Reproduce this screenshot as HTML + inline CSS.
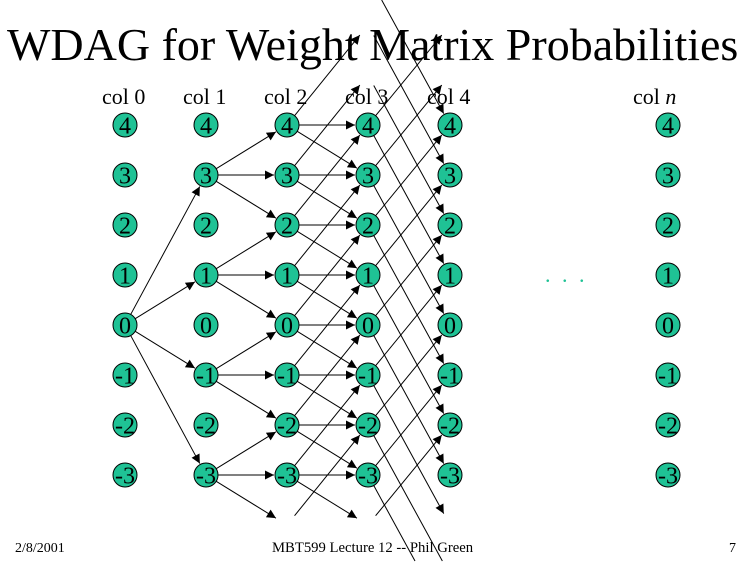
<!DOCTYPE html>
<html><head><meta charset="utf-8"><style>
html,body{margin:0;background:#fff;overflow:hidden;width:750px;height:562px;}
#w{position:relative;width:750px;height:562px;overflow:hidden;font-family:"Liberation Serif",serif;}
.t{position:absolute;white-space:nowrap;color:#000;}
</style></head><body><div id="w">
<div class="t" style="left:7px;top:18px;font-size:46px;">WDAG for Weight Matrix Probabilities</div>
<div class="t" style="left:102px;top:84px;font-size:22px;">col 0</div>
<div class="t" style="left:183px;top:84px;font-size:22px;">col 1</div>
<div class="t" style="left:264px;top:84px;font-size:22px;">col 2</div>
<div class="t" style="left:345px;top:84px;font-size:22px;">col 3</div>
<div class="t" style="left:427px;top:84px;font-size:22px;">col 4</div>
<div class="t" style="left:633px;top:84px;font-size:22px;">col <i>n</i></div>
<div class="t" style="left:545px;top:262px;font-size:22px;color:#1fc295;letter-spacing:3px;">. . .</div>
<div class="t" style="left:15px;top:541px;font-size:14px;">2/8/2001</div>
<div class="t" style="left:272px;top:540px;font-size:14.7px;">MBT599 Lecture 12 -- Phil Green</div>
<div class="t" style="left:729px;top:541px;font-size:14px;">7</div>
<svg id="s" width="750" height="562" style="position:absolute;left:0;top:0;overflow:hidden;" xmlns="http://www.w3.org/2000/svg">
<defs><marker id="a" viewBox="0 0 10 10" refX="10" refY="5" markerWidth="12" markerHeight="9" markerUnits="userSpaceOnUse" orient="auto"><path d="M0,0L10,5L0,10z" fill="#000"/></marker></defs>
<g id="e" stroke="#000" stroke-width="1" fill="none"></g>
<g id="n"></g>
</svg>
</div>
<script>
var X=[125,206,287,368,450],NX=668;
function Y(r){return 325-50*r;}
var e=document.getElementById('e'),n=document.getElementById('n'),NS='http://www.w3.org/2000/svg';
function edge(c,r,r2){
 var x1=X[c],y1=Y(r),x2=X[c+1],y2=Y(r2),dx=x2-x1,dy=y2-y1,L=Math.sqrt(dx*dx+dy*dy),ux=dx/L,uy=dy/L;
 var sx=x1+ux*12,sy=y1+uy*12,ex=x2-ux*13,ey=y2-uy*13,mark=true;
 if(sy<0){sx=sx+(0-sy)*ux/uy;sy=0;}
 if(ey>561){ex=sx+(561-sy)*ux/uy;ey=561;mark=false;}
 if(ey<0){ex=sx+(0-sy)*ux/uy;ey=0;mark=false;}
 if(sy>561)return;
 var l=document.createElementNS(NS,'line');
 l.setAttribute('x1',sx);l.setAttribute('y1',sy);
 l.setAttribute('x2',ex);l.setAttribute('y2',ey);
 if(mark)l.setAttribute('marker-end','url(#a)');e.appendChild(l);
}
[3,1,-1,-3].forEach(function(r){edge(0,0,r);});
[3,1,-1,-3].forEach(function(r){edge(1,r,r+1);edge(1,r,r);edge(1,r,r-1);});
for(var r=4;r>=-3;r--){edge(2,r,r+2);edge(2,r,r);edge(2,r,r-1);}
edge(2,-4,-2);
for(var r=4;r>=-3;r--){edge(3,r,r+2);edge(3,r,r-3);}
[5,6,7].forEach(function(r){edge(3,r,r-3);});
edge(3,-4,-2);
function node(x,r){
 var g=document.createElementNS(NS,'g');
 var c=document.createElementNS(NS,'circle');c.setAttribute('cx',x);c.setAttribute('cy',Y(r));c.setAttribute('r',12);
 c.setAttribute('fill','#1fc295');c.setAttribute('stroke','#000');c.setAttribute('stroke-width','1');g.appendChild(c);
 var t=document.createElementNS(NS,'text');t.setAttribute('x',x);t.setAttribute('y',Y(r)+8.5);t.setAttribute('text-anchor','middle');
 t.setAttribute('font-family','Liberation Serif, serif');t.setAttribute('font-size','24');t.textContent=r;g.appendChild(t);
 n.appendChild(g);
}
X.concat([NX]).forEach(function(x){for(var r=4;r>=-3;r--)node(x,r);});
</script>
</body></html>
